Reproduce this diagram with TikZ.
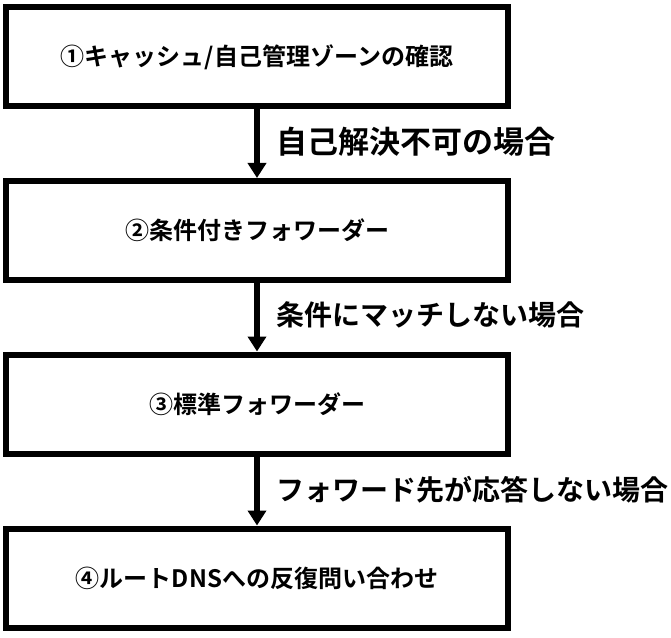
\documentclass[tikz,border=0pt]{standalone}
\usepackage{fontspec}
\newfontfamily\jpfont{Noto Sans CJK JP Bold}
\usetikzlibrary{arrows.meta}
\begin{document}
\begin{tikzpicture}[x=0.75pt,y=-0.75pt,
  stepbox/.style={draw=black, line width=4.5pt, fill=white, minimum width=502*0.75pt,
    minimum height=99*0.75pt, inner sep=0pt, outer sep=2.25pt,
    font=\jpfont\fontsize{18pt}{21pt}\selectfont},
  flowarrow/.style={draw=black, line width=4.5pt, -{Triangle[length=11.25pt,width=13.5pt]}},
  lab/.style={anchor=west, inner sep=0pt, xshift=16*0.75pt}
]
\useasboundingbox (0,0) rectangle (671,638);
\fill[white] (0,0) rectangle (671,638);
\node[stepbox] (b1) at (257,57) {①キャッシュ/自己管理ゾーンの確認};
\node[stepbox] (b2) at (257,230.5) {②条件付きフォワーダー};
\node[stepbox] (b3) at (257,404) {③標準フォワーダー};
\node[stepbox] (b4) at (257,578) {④ルートDNSへの反復問い合わせ};
\draw[flowarrow] (b1.south) -- node[lab, yshift=1.5pt, font=\jpfont\fontsize{23.25pt}{26pt}\selectfont] {自己解決不可の場合} (b2.north);
\draw[flowarrow] (b2.south) -- node[lab, yshift=1.5pt, font=\jpfont\fontsize{21pt}{24pt}\selectfont] {条件にマッチしない場合} (b3.north);
\draw[flowarrow] (b3.south) -- node[lab, yshift=1pt, font=\jpfont\fontsize{21pt}{24pt}\selectfont] {フォワード先が応答しない場合} (b4.north);
\end{tikzpicture}
\end{document}
